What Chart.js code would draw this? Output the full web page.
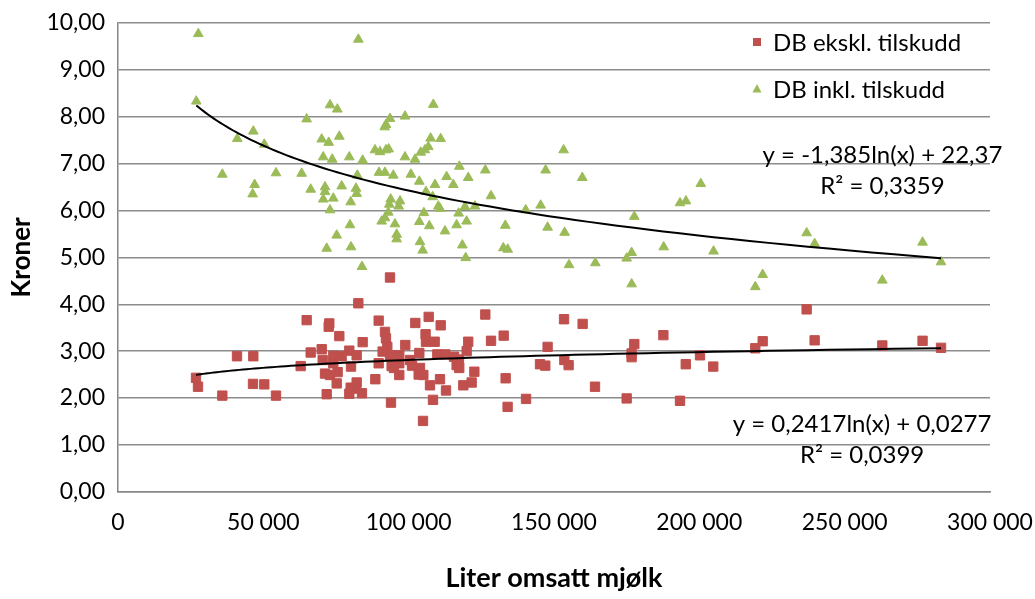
<!DOCTYPE html>
<html>
<head>
<meta charset="utf-8">
<script src="https://cdn.jsdelivr.net/npm/chart.js@4.4.1/dist/chart.umd.min.js"></script>
<style>
  html, body { margin: 0; padding: 0; background: #ffffff; }
  #wrap { width: 1035px; height: 599px; }
</style>
</head>
<body>
<div id="wrap"><canvas id="c" width="1035" height="599"></canvas></div>
<script>
// Series names
const seriesNames = ['DB ekskl. tilskudd', 'DB inkl. tilskudd'];

// DB ekskl. tilskudd: litres sold and kroner per litre
const ekslLiter = [
  82680, 64910, 72690, 72490, 89680, 102290, 106890, 111020, 76140, 91850,
  92190, 92650, 105820, 105960, 108940, 84170, 98840, 66290, 70080, 79580,
  74070, 76940, 82110, 91040, 93580, 96770, 103660, 109860, 112620, 115600,
  119960, 70420, 74070, 62840, 80160, 89680, 94140, 96770, 100460, 101150,
  103900, 103440, 116500, 117400, 71220, 72940, 75560, 75240, 94950, 96770,
  105040, 88530, 82110, 81880, 80050, 79580, 83940, 107340, 110780, 112850,
  118800, 71800, 93920, 108370, 104930, 120500, 93580,
  26830, 27520, 35890, 40940, 46550, 46440, 50330, 54360,
  126370, 153450, 159850, 128330, 132690, 117300, 122600, 121670, 133360, 134040,
  140380, 147800, 145180, 147000, 153560, 155030, 164110, 175000, 177630, 176700,
  176700, 187630, 195330, 193350, 200230, 236920, 204790, 219250, 221790, 239670,
  262950, 276800, 283150
];
const ekslKroner = [
  4.02, 3.66, 3.59, 3.52, 3.65, 3.60, 3.73, 3.55, 3.32, 3.41,
  3.27, 3.09, 3.36, 3.20, 3.20, 3.19, 3.13, 2.97, 3.04, 3.01,
  2.90, 2.89, 2.91, 2.99, 2.91, 2.91, 2.96, 2.93, 2.93, 2.88,
  3.00, 2.81, 2.74, 2.68, 2.67, 2.74, 2.68, 2.74, 2.81, 2.69,
  2.64, 2.50, 2.70, 2.64, 2.52, 2.49, 2.55, 2.31, 2.64, 2.49,
  2.49, 2.40, 2.33, 2.20, 2.22, 2.09, 2.10, 2.27, 2.40, 2.16,
  2.27, 2.08, 1.90, 1.96, 1.51, 3.20, 4.57,
  2.43, 2.24, 2.05, 2.89, 2.89, 2.30, 2.29, 2.05,
  3.78, 3.68, 3.58, 3.22, 3.33, 2.82, 2.56, 2.33, 2.42, 1.81,
  1.98, 3.09, 2.72, 2.69, 2.81, 2.70, 2.24, 1.99, 3.15, 2.95,
  2.87, 3.34, 2.72, 1.94, 2.91, 3.89, 2.67, 3.06, 3.21, 3.23,
  3.12, 3.22, 3.07
];

// DB inkl. tilskudd: litres sold and kroner per litre
const inklLiter = [
  72940, 75450, 108480, 64910, 98740, 93580, 92190, 91750, 70080, 72490,
  76140, 107550, 111000, 106760, 105590, 104140, 88420, 90140, 92190, 93120,
  70610, 73700, 79580, 84170, 98740, 102180, 117430, 63190, 82330, 89790,
  91850, 94720, 100770, 103660, 113060, 109060, 115360, 120500, 66290, 71220,
  71220, 70610, 76950, 81880, 82110, 74070, 80050, 105960, 108260, 93810,
  93350, 97020, 96560, 110200, 110780, 119380, 72940, 92990, 91850, 90720,
  105240, 117190, 103660, 107100, 95290, 116500, 119930, 79810, 112500, 75240,
  95870, 95870, 103900, 104830, 118460, 71800, 80160, 119620, 83940,
  27630, 82680, 26940, 46550, 41040, 50330, 35890, 54360, 47010, 46330,
  126370, 128330, 147120, 153310, 159730, 133250, 140270, 145400, 147800, 153650,
  132570, 134080, 155170, 164220, 175000, 176720, 176720, 177630, 187740, 193350,
  195400, 200500, 122800, 204900, 221790, 219250, 236920, 239670, 262950, 276800,
  283150
];
const inklKroner = [
  8.25, 8.16, 8.26, 7.95, 8.01, 7.96, 7.83, 7.78, 7.52, 7.45,
  7.58, 7.54, 7.53, 7.36, 7.29, 7.24, 7.29, 7.25, 7.29, 7.31,
  7.14, 7.09, 7.14, 7.07, 7.14, 7.09, 6.94, 6.79, 6.75, 6.81,
  6.81, 6.75, 6.77, 6.62, 6.72, 6.55, 6.55, 6.70, 6.45, 6.50,
  6.40, 6.24, 6.52, 6.47, 6.36, 6.26, 6.18, 6.40, 6.29, 6.24,
  6.13, 6.20, 6.09, 6.09, 6.04, 6.08, 6.01, 5.96, 5.84, 5.77,
  5.95, 5.94, 5.76, 5.67, 5.71, 5.69, 5.77, 5.69, 5.56, 5.47,
  5.49, 5.39, 5.33, 5.15, 5.26, 5.19, 5.22, 4.99, 4.80,
  9.77, 9.65, 8.33, 7.69, 7.53, 7.41, 6.77, 6.80, 6.55, 6.35,
  6.86, 6.31, 6.86, 7.29, 6.70, 5.68, 6.01, 6.11, 5.64, 5.53,
  5.20, 5.17, 4.84, 4.88, 4.98, 5.10, 4.43, 5.87, 5.22, 6.16,
  6.20, 6.57, 6.09, 5.13, 4.63, 4.37, 5.52, 5.29, 4.51, 5.32,
  4.90
];

// Logarithmic trendlines: y = a*ln(x) + b, with R²
const trendEksl = [0.2417, 0.0277];
const trendInkl = [-1.385, 22.37];
const r2Labels = ['0,0399', '0,3359'];

// Axis ticks
const xTicks = [0, 50000, 100000, 150000, 200000, 250000, 300000];
const yTicks = [0, 1, 2, 3, 4, 5, 6, 7, 8, 9, 10];

const RED = '#C0504D';
const GREEN = '#9BBB59';
const FONT = 'Lato, "Open Sans", sans-serif';

function toPoints(xs, ys) { return xs.map((x, i) => ({ x: x, y: ys[i] })); }

function trendPoints(xs, coef) {
  const lo = Math.min(...xs), hi = Math.max(...xs);
  const pts = [];
  const n = 80;
  for (let i = 0; i <= n; i++) {
    const x = lo * Math.pow(hi / lo, i / n);
    pts.push({ x: x, y: coef[0] * Math.log(x) + coef[1] });
  }
  return pts;
}

const comma = v => String(v).replace('.', ',');
const eqText = c => 'y = ' + comma(c[0]) + 'ln(x) + ' + comma(c[1]);
const thousands = v => String(v).replace(/\B(?=(\d{3})+(?!\d))/g, ' ');

// Keep the plot area fixed: tick label overhang must not shrink it
function noOverhang(scale) {
  scale.paddingTop = 0;
  scale.paddingBottom = 0;
  scale.paddingLeft = 0;
  scale.paddingRight = 0;
}

// Legend drawn inside the plot, top right
const legendPlugin = {
  id: 'innerLegend',
  afterDraw(chart) {
    const ctx = chart.ctx;
    const items = [
      { text: seriesNames[0], color: RED, style: 'rect', y: 42 },
      { text: seriesNames[1], color: GREEN, style: 'triangle', y: 89 }
    ];
    ctx.save();
    ctx.font = '24px ' + FONT;
    ctx.textBaseline = 'middle';
    ctx.textAlign = 'left';
    items.forEach(it => {
      const mx = 757;
      ctx.fillStyle = it.color;
      if (it.style === 'rect') {
        ctx.fillRect(mx - 4, it.y - 4, 8, 8);
      } else {
        ctx.beginPath();
        ctx.moveTo(mx, it.y - 5);
        ctx.lineTo(mx + 4.5, it.y + 3.5);
        ctx.lineTo(mx - 4.5, it.y + 3.5);
        ctx.closePath();
        ctx.fill();
      }
      ctx.fillStyle = '#000';
      ctx.fillText(it.text, 773, it.y + 1);
    });
    ctx.restore();
  }
};

// Trendline equation labels, anchored in data coordinates
const equationPlugin = {
  id: 'equations',
  afterDraw(chart) {
    const ctx = chart.ctx;
    const xs = chart.scales.x, ys = chart.scales.y;
    const labels = [
      { coef: trendInkl, r2: r2Labels[1], x: 263000, y: 7.18 },
      { coef: trendEksl, r2: r2Labels[0], x: 256000, y: 1.44 }
    ];
    ctx.save();
    ctx.font = '24px ' + FONT;
    ctx.fillStyle = '#000';
    ctx.textAlign = 'center';
    ctx.textBaseline = 'middle';
    labels.forEach(l => {
      const px = xs.getPixelForValue(l.x);
      const py = ys.getPixelForValue(l.y);
      ctx.fillText(eqText(l.coef), px, py);
      ctx.fillText('R² = ' + l.r2, px, py + 31);
    });
    ctx.restore();
  }
};

new Chart(document.getElementById('c'), {
  type: 'scatter',
  data: {
    datasets: [
      {
        label: 'trend ekskl',
        type: 'line',
        data: trendPoints(ekslLiter, trendEksl),
        borderColor: '#000000',
        borderWidth: 2,
        pointRadius: 0,
        fill: false,
        tension: 0,
        order: 0
      },
      {
        label: 'trend inkl',
        type: 'line',
        data: trendPoints(inklLiter, trendInkl),
        borderColor: '#000000',
        borderWidth: 2,
        pointRadius: 0,
        fill: false,
        tension: 0,
        order: 0
      },
      {
        label: seriesNames[0],
        data: toPoints(ekslLiter, ekslKroner),
        pointStyle: 'rect',
        pointRadius: 6.6,
        pointBorderWidth: 1,
        backgroundColor: RED,
        borderColor: RED,
        order: 2
      },
      {
        label: seriesNames[1],
        data: toPoints(inklLiter, inklKroner),
        pointStyle: 'triangle',
        pointRadius: 5.6,
        pointBorderWidth: 1,
        backgroundColor: GREEN,
        borderColor: GREEN,
        order: 1
      }
    ]
  },
  options: {
    responsive: false,
    devicePixelRatio: 1,
    animation: false,
    layout: { padding: { top: 23, right: 45, left: 0, bottom: 0 } },
    plugins: {
      legend: { display: false },
      tooltip: { enabled: false }
    },
    scales: {
      x: {
        type: 'linear',
        min: 0,
        max: 300000,
        afterBuildTicks(scale) { scale.ticks = xTicks.map(v => ({ value: v })); },
        afterFit(scale) { scale.height = 107.3; noOverhang(scale); },
        grid: { display: false, drawTicks: false },
        border: { display: true, color: '#868686', width: 1.5 },
        ticks: {
          padding: 17,
          color: '#000',
          font: { family: FONT, size: 23 },
          maxRotation: 0,
          autoSkip: false,
          callback: v => thousands(v)
        },
        title: {
          display: true,
          text: 'Liter omsatt mjølk',
          color: '#000',
          font: { family: FONT, size: 27, weight: 'bold' },
          padding: { top: 0, bottom: 4.8 }
        }
      },
      y: {
        type: 'linear',
        min: 0,
        max: 10,
        afterBuildTicks(scale) { scale.ticks = yTicks.map(v => ({ value: v })); },
        afterFit(scale) { scale.width = 118; noOverhang(scale); },
        grid: { color: '#8c8c8c', lineWidth: 1.4, drawTicks: false },
        border: { display: true, color: '#868686', width: 1.5 },
        ticks: {
          padding: 13,
          color: '#000',
          font: { family: FONT, size: 23 },
          callback: v => v.toFixed(2).replace('.', ',')
        },
        title: {
          display: true,
          text: 'Kroner',
          color: '#000',
          font: { family: FONT, size: 26, weight: 'bold' },
          padding: { top: 6.4, bottom: 0 }
        }
      }
    }
  },
  plugins: [legendPlugin, equationPlugin]
});
</script>
</body>
</html>
